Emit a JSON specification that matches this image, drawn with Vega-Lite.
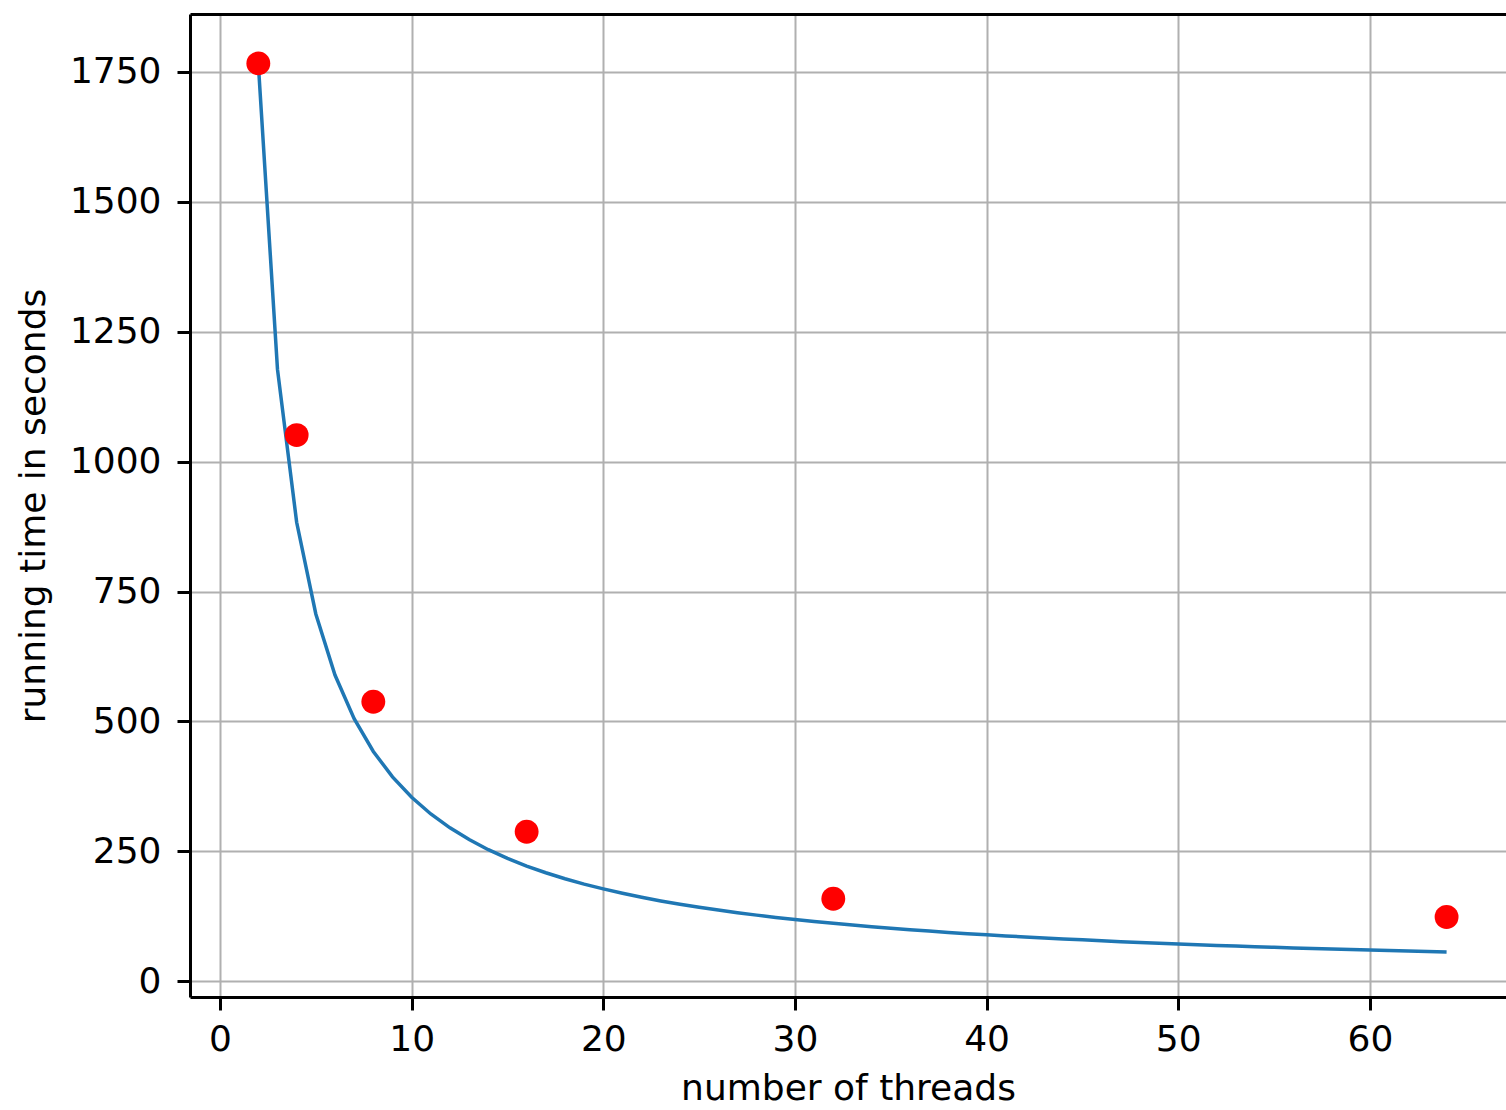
{
  "$schema": "https://vega.github.io/schema/vega-lite/v6.json",
  "autosize": {"type": "none"},
  "padding": {"left": 190, "top": 14, "right": 0, "bottom": 113},
  "width": 1316,
  "height": 983,
  "background": "white",
  "config": {
    "view": {"stroke": null},
    "font": "DejaVu Sans",
    "axis": {
      "labelFont": "DejaVu Sans",
      "titleFont": "DejaVu Sans",
      "labelFontSize": 36,
      "titleFontSize": 36,
      "titleFontWeight": "normal",
      "labelColor": "#000000",
      "titleColor": "#000000",
      "domainColor": "#000000",
      "domainWidth": 3,
      "tickColor": "#000000",
      "tickWidth": 3,
      "tickSize": 13,
      "gridColor": "#b0b0b0",
      "gridWidth": 2,
      "gridOpacity": 1
    }
  },
  "datasets": {
    "curve": [
      {"threads": 2, "time": 1765}, {"threads": 3, "time": 1177.2}, {"threads": 4, "time": 883.3},
      {"threads": 5, "time": 706.9}, {"threads": 6, "time": 589.3}, {"threads": 7, "time": 505.4},
      {"threads": 8, "time": 442.4}, {"threads": 9, "time": 393.4}, {"threads": 10, "time": 354.2},
      {"threads": 11, "time": 322.1}, {"threads": 12, "time": 295.4}, {"threads": 13, "time": 272.8},
      {"threads": 14, "time": 253.4}, {"threads": 15, "time": 236.6}, {"threads": 16, "time": 221.9},
      {"threads": 17, "time": 209.0}, {"threads": 18, "time": 197.4}, {"threads": 19, "time": 187.1},
      {"threads": 20, "time": 177.9}, {"threads": 21, "time": 169.5}, {"threads": 22, "time": 161.8},
      {"threads": 23, "time": 154.8}, {"threads": 24, "time": 148.5}, {"threads": 25, "time": 142.6},
      {"threads": 26, "time": 137.2}, {"threads": 27, "time": 132.1}, {"threads": 28, "time": 127.5},
      {"threads": 29, "time": 123.1}, {"threads": 30, "time": 119.1}, {"threads": 31, "time": 115.3},
      {"threads": 32, "time": 111.7}, {"threads": 33, "time": 108.4}, {"threads": 34, "time": 105.2},
      {"threads": 35, "time": 102.3}, {"threads": 36, "time": 99.5}, {"threads": 37, "time": 96.8},
      {"threads": 38, "time": 94.3}, {"threads": 39, "time": 91.9}, {"threads": 40, "time": 89.7},
      {"threads": 41, "time": 87.5}, {"threads": 42, "time": 85.5}, {"threads": 43, "time": 83.5},
      {"threads": 44, "time": 81.7}, {"threads": 45, "time": 79.9}, {"threads": 46, "time": 78.2},
      {"threads": 47, "time": 76.5}, {"threads": 48, "time": 75.0}, {"threads": 49, "time": 73.5},
      {"threads": 50, "time": 72.0}, {"threads": 51, "time": 70.7}, {"threads": 52, "time": 69.3},
      {"threads": 53, "time": 68.0}, {"threads": 54, "time": 66.8}, {"threads": 55, "time": 65.6},
      {"threads": 56, "time": 64.5}, {"threads": 57, "time": 63.4}, {"threads": 58, "time": 62.3},
      {"threads": 59, "time": 61.3}, {"threads": 60, "time": 60.3}, {"threads": 61, "time": 59.3},
      {"threads": 62, "time": 58.4}, {"threads": 63, "time": 57.5}, {"threads": 64, "time": 56.6}
    ],
    "measured": [
      {"threads": 2, "time": 1766},
      {"threads": 4, "time": 1051},
      {"threads": 8, "time": 538},
      {"threads": 16, "time": 288},
      {"threads": 32, "time": 159},
      {"threads": 64, "time": 124}
    ]
  },
  "resolve": {"axis": {"x": "independent", "y": "independent"}},
  "layer": [
    {
      "data": {"name": "curve"},
      "mark": {"type": "line", "color": "#1f77b4", "strokeWidth": 3.5, "clip": true},
      "encoding": {
        "x": {
          "field": "threads", "type": "quantitative",
          "scale": {"domain": [-1.565, 67.1], "nice": false, "zero": false},
          "axis": {
            "orient": "bottom",
            "values": [0, 10, 20, 30, 40, 50, 60],
            "format": "d",
            "grid": true,
            "labelPadding": 12,
            "title": "number of threads",
            "titlePadding": 14
          }
        },
        "y": {
          "field": "time", "type": "quantitative",
          "scale": {"domain": [-30, 1861], "nice": false, "zero": false},
          "axis": {
            "orient": "left",
            "values": [0, 250, 500, 750, 1000, 1250, 1500, 1750],
            "format": "d",
            "grid": true,
            "labelPadding": 16,
            "title": "running time in seconds",
            "titlePadding": 17
          }
        }
      }
    },
    {
      "data": {"name": "measured"},
      "mark": {"type": "circle", "color": "#ff0000", "opacity": 1, "size": 570},
      "encoding": {
        "x": {
          "field": "threads", "type": "quantitative",
          "scale": {"domain": [-1.565, 67.1], "nice": false, "zero": false},
          "axis": {"orient": "top", "labels": false, "ticks": false, "grid": false, "domain": true, "title": null}
        },
        "y": {
          "field": "time", "type": "quantitative",
          "scale": {"domain": [-30, 1861], "nice": false, "zero": false},
          "axis": null
        }
      }
    }
  ]
}
